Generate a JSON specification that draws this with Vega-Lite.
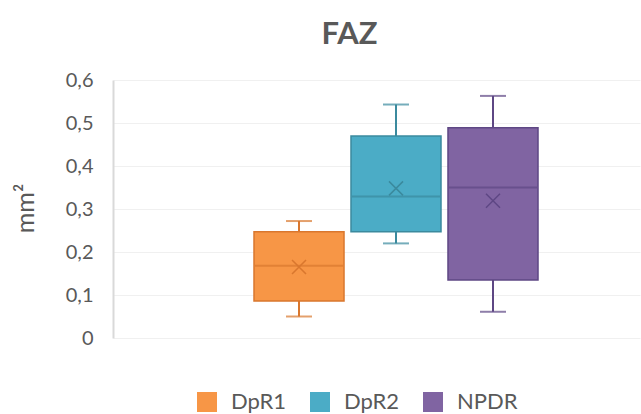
{
  "$schema": "https://vega.github.io/schema/vega-lite/v6.json",
  "width": 527,
  "height": 258,
  "autosize": {"type": "none"},
  "padding": {"left": 113, "top": 80, "right": 1, "bottom": 76},
  "background": "white",
  "config": {"view": {"stroke": null}, "font": "Lato"},
  "title": {"text": "FAZ", "fontSize": 31, "fontWeight": "bold", "color": "#595959", "font": "Lato", "dx": -27, "offset": 19},
  "data": {"values": [
    {"group": "DpR1", "min": 0.050, "q1": 0.086, "median": 0.168, "q3": 0.247, "max": 0.272, "mean": 0.165},
    {"group": "DpR2", "min": 0.220, "q1": 0.247, "median": 0.329, "q3": 0.470, "max": 0.543, "mean": 0.348},
    {"group": "NPDR", "min": 0.061, "q1": 0.135, "median": 0.350, "q3": 0.489, "max": 0.563, "mean": 0.319}
  ]},
  "encoding": {
    "x": {"field": "group", "type": "nominal", "axis": null,
      "scale": {"domain": ["_a", "DpR1", "DpR2", "NPDR", "_b"], "paddingInner": 0.072, "paddingOuter": 0.2526, "align": 0.898}}
  },
  "layer": [
    {
      "mark": {"type": "rule", "strokeWidth": 2},
      "encoding": {
        "y": {"field": "min", "type": "quantitative",
          "scale": {"domain": [0, 0.6], "nice": false},
          "axis": {"values": [0, 0.1, 0.2, 0.3, 0.4, 0.5, 0.6],
            "labelExpr": "datum.value == 0 ? '0' : replace(format(datum.value, '.1f'), '.', ',')",
            "labelFontSize": 20, "labelColor": "#595959", "labelFont": "Lato", "labelPadding": 20,
            "ticks": false, "domainColor": "#d9d9d9", "domainWidth": 2,
            "grid": true, "gridColor": "#f0f0f0", "gridWidth": 1,
            "title": "mm²", "titleFontSize": 25, "titleFont": "Lato", "titleFontWeight": "normal",
            "titleColor": "#595959", "titleX": -88, "titleY": 128, "titleBaseline": "middle", "titleAngle": -90}},
        "y2": {"field": "max"},
        "stroke": {"condition": [{"test": "datum.group == 'DpR1'", "value": "#D9772E"}, {"test": "datum.group == 'DpR2'", "value": "#3B8A9E"}], "value": "#5E4784"}
      }
    },
    {
      "mark": {"type": "tick", "size": 26, "thickness": 2},
      "encoding": {
        "y": {"field": "max", "type": "quantitative"},
        "color": {"condition": [{"test": "datum.group == 'DpR1'", "value": "#D9772E"}, {"test": "datum.group == 'DpR2'", "value": "#3B8A9E"}], "value": "#5E4784"}
      }
    },
    {
      "mark": {"type": "tick", "size": 26, "thickness": 2},
      "encoding": {
        "y": {"field": "min", "type": "quantitative"},
        "color": {"condition": [{"test": "datum.group == 'DpR1'", "value": "#D9772E"}, {"test": "datum.group == 'DpR2'", "value": "#3B8A9E"}], "value": "#5E4784"}
      }
    },
    {
      "mark": {"type": "bar", "strokeWidth": 1.5},
      "encoding": {
        "y": {"field": "q1", "type": "quantitative"},
        "y2": {"field": "q3"},
        "fill": {"field": "group", "type": "nominal",
          "scale": {"domain": ["DpR1", "DpR2", "NPDR"], "range": ["#F79646", "#4BACC6", "#8064A2"]},
          "legend": {"orient": "none", "direction": "horizontal", "legendX": 83, "legendY": 311, "title": null,
            "symbolType": "square", "symbolSize": 400, "symbolStrokeWidth": 0,
            "labelFontSize": 22, "labelColor": "#595959", "labelFont": "Lato", "labelOffset": 13, "columnPadding": 22}},
        "stroke": {"condition": [{"test": "datum.group == 'DpR1'", "value": "#D9772E"}, {"test": "datum.group == 'DpR2'", "value": "#3B8A9E"}], "value": "#5E4784"}
      }
    },
    {
      "mark": {"type": "tick", "size": 88, "thickness": 2},
      "encoding": {
        "y": {"field": "median", "type": "quantitative"},
        "color": {"condition": [{"test": "datum.group == 'DpR1'", "value": "#D9772E"}, {"test": "datum.group == 'DpR2'", "value": "#3B8A9E"}], "value": "#5E4784"}
      }
    },
    {
      "mark": {"type": "point", "shape": "M-1,-1L1,1M1,-1L-1,1", "filled": false, "size": 196, "strokeWidth": 1.5, "opacity": 1},
      "encoding": {
        "y": {"field": "mean", "type": "quantitative"},
        "stroke": {"condition": [{"test": "datum.group == 'DpR1'", "value": "#D9772E"}, {"test": "datum.group == 'DpR2'", "value": "#3B8A9E"}], "value": "#5E4784"}
      }
    }
  ]
}
